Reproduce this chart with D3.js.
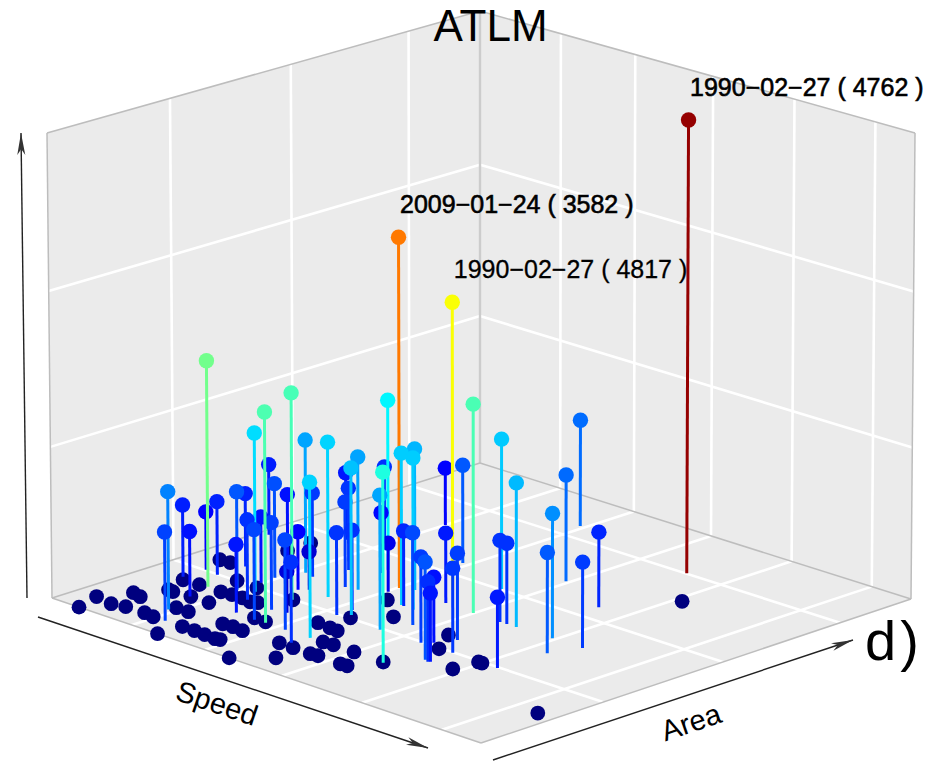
<!DOCTYPE html>
<html>
<head>
<meta charset="utf-8">
<style>
  body { margin: 0; background: #fff; }
  text { font-family: "Liberation Sans", Arial, sans-serif; fill: #000; }
</style>
<script src="https://cdnjs.cloudflare.com/ajax/libs/d3/7.8.5/d3.min.js"></script>
</head>
<body>
<div id="chart"></div>
<script>
// values, every axis runs 0..100
var speedTicks = [18.6, 35.7, 53.6, 72.3, 90.9];
var areaTicks = [28.4, 56.3, 83.5];
var valueTicks = [32.5, 66];

// storms with value about 0, the dark dots lying on the floor
var floorSpeed = [6.3,4.5,8.7,11.4,7.3,9.5,15.7,18.1,24.6,10.2,11.4,17.5,20.3,8.3,11.9,15.2,19.4,5.3,7.5,14.8,16.9,19.2,
  21.5,19.6,23.8,25,24.9,27.7,30.3,32.9,33.8,28.5,30.7,33.2,41.3,30,32.7,41.7,45,46.6,28,49.1,50.7,39,42.2,44.1,46.4,
  48.6,53.5,56.1,57.6,41,38.9,45.6,60.4,58.4,62.2,70.9,71.4,72.2,73.7,96.2,9.6,9.8];
var floorArea = [0,5.9,5.1,5.8,11.7,11.1,5.9,5.5,0,17,16.8,11.5,11.5,22.3,22.5,17.2,17.2,33.9,34.1,28.4,22.5,22.8,
  22.9,28.2,22.4,23,5.5,5.5,5.3,5.1,5.4,11.3,11.5,11.2,0,17.2,17.1,11.3,11.2,5.6,28.2,11.1,11.3,23,22.6,22.4,16.8,
  17,16.9,11.1,11.2,28.6,39.3,34,16.8,34,28,22.5,28,28,73.1,17,50.8,45.2];

// storms drawn with a stem
var stemSpeed = [17.3,20.9,7.2,15.1,7.3,13.6,10.4,18,10.7,26.1,22.8,18.3,30.7,29.1,18,1.9,13,25,37.8,43.1,31.9,27.9,
  19.8,43.5,22,26.3,20.8,33,31,31.9,40.1,12.5,23.7,29.4,38.4,38.4,28.2,60.7,19.2,48.7,28.5,36.1,36,42.3,45.4,38.5,
  42.9,50.7,58,64.5,59.5,65.5,65.8,18.6,46.7,34.4,61.2,65.2,42.9,53.5,75.7,48.2,59.8,61.3,63.4,71.6,76.3,52.9,34.7,
  78.6,66,64.2];
var stemArea = [9.9,5.5,23.4,17.1,28.7,22.8,28.2,25.2,34.5,16.9,22.8,30.5,16.5,22.1,34,48.8,42,32.4,16.6,12.7,22.9,
  28.1,39.4,16.7,38.8,33.7,26.6,16.8,33.4,39.5,29.7,56.1,45.5,39,28,31.6,50.2,16.5,58.4,27.8,48.3,42.3,45,39.2,38.8,
  46.1,39.1,33.4,28,22.5,29.5,22.1,22.4,73.2,45.1,61.4,33.3,28.2,50.5,44.7,28.1,56.6,44.6,44.7,44.8,45,39.1,66.9,
  88.5,45,61.4,83.7];
var stemValue = [25.3,19,15.5,14,12.5,48.7,15.8,21.1,15.8,14.6,17.2,14.2,19.3,18.7,20.3,15.3,14.1,12.5,19.2,17.2,8.8,
  44.5,28.7,33.2,18.1,8.2,34.2,45.1,33.3,28.6,31.5,14.6,17.7,18.3,17.6,17.1,36.7,40.5,17.2,28.8,13,10.5,75.6,32.6,
  32.6,30.4,16.1,19.7,18.3,20.8,14,17,14.6,12.4,15,21.2,18.5,18,62,44.8,15,32.3,17.5,17.3,30.8,26.6,21.4,22.9,23.1,
  18.3,16.1,97.9];

// three storms carry a label, index into the stem arrays
var labelStem = [71, 42, 58];
var labelDate = ['1990\u221202\u221227', '2009\u221201\u221224', '1990\u221202\u221227'];
var labelCount = [4762, 3582, 4817];

var jetStops = ['#00007F', '#0000FF', '#007FFF', '#00FFFF', '#7FFF7F', '#FFFF00', '#FF7F00', '#FF0000', '#7F0000'];

var width = 932, height = 761;

// box corners on screen: left, front, right, back
var floorX = [52, 481, 911, 480], floorY = [598, 743, 599, 463];
var ceilX = [47, 481, 915, 480], ceilY = [133, 265, 133, 11];

var sScale = d3.scaleLinear().domain([0, 100]).range([0, 1]);
var aScale = d3.scaleLinear().domain([0, 100]).range([0, 1]);
var zScale = d3.scaleLinear().domain([0, 100]).range([0, 1]);
var color = d3.scaleLinear()
  .domain(jetStops.map(function(d, i) { return i * 100 / (jetStops.length - 1); }))
  .range(jetStops);

var bilinear = function(c, s, a) {
  return c[0]*(1-s)*(1-a) + c[1]*s*(1-a) + c[2]*s*a + c[3]*(1-s)*a;
};

var project = function(speed, area, value) {
  var s = sScale(speed), a = aScale(area), z = zScale(value);
  var x0 = bilinear(floorX, s, a), y0 = bilinear(floorY, s, a);
  return [x0 + z*(bilinear(ceilX, s, a) - x0), y0 + z*(bilinear(ceilY, s, a) - y0)];
};

var line = d3.line();
var svg = d3.select('#chart').append('svg').attr('width', width).attr('height', height);
var defs = svg.append('defs');

defs.append('marker').attr('id', 'arrow')
  .attr('viewBox', '0 0 22 10').attr('refX', 22).attr('refY', 5)
  .attr('markerUnits', 'userSpaceOnUse').attr('markerWidth', 22).attr('markerHeight', 10)
  .attr('orient', 'auto')
  .append('path').attr('d', 'M0,1 L22,5 L0,9 L6,5 Z').attr('fill', '#333');

var panel = svg.append('g');

var panels = [
  [[0,0,0], [0,100,0], [0,100,100], [0,0,100]],
  [[0,100,0], [100,100,0], [100,100,100], [0,100,100]],
  [[0,0,0], [100,0,0], [100,100,0], [0,100,0]]
];
panel.selectAll('path.panel').data(panels).enter().append('path')
  .attr('class', 'panel')
  .attr('d', function(d) { return line(d.map(function(p) { return project(p[0], p[1], p[2]); })) + 'Z'; })
  .attr('fill', '#EBEBEB');

// white grid, two families on the floor and two on each wall
var gridLines = [];
speedTicks.forEach(function(t) {
  gridLines.push([[t,0,0], [t,100,0]]);
  gridLines.push([[t,100,0], [t,100,100]]);
});
areaTicks.forEach(function(t) {
  gridLines.push([[0,t,0], [100,t,0]]);
  gridLines.push([[0,t,0], [0,t,100]]);
});
valueTicks.forEach(function(t) {
  gridLines.push([[0,0,t], [0,100,t]]);
  gridLines.push([[0,100,t], [100,100,t]]);
});
panel.selectAll('path.grid').data(gridLines).enter().append('path')
  .attr('class', 'grid')
  .attr('d', function(d) { return line(d.map(function(p) { return project(p[0], p[1], p[2]); })); })
  .attr('fill', 'none').attr('stroke', '#fff').attr('stroke-width', 2.6);

var edges = [
  [[0,0,0], [0,0,100]], [[0,0,100], [0,100,100]], [[0,100,100], [100,100,100]], [[100,100,100], [100,100,0]],
  [[0,100,0], [0,100,100]],
  [[0,0,0], [100,0,0]], [[100,0,0], [100,100,0]], [[0,0,0], [0,100,0]], [[0,100,0], [100,100,0]]
];
panel.selectAll('path.edge').data(edges).enter().append('path')
  .attr('class', 'edge')
  .attr('d', function(d) { return line(d.map(function(p) { return project(p[0], p[1], p[2]); })); })
  .attr('fill', 'none').attr('stroke', function(d, i) { return i === 4 ? '#CCCCCC' : '#BDBDBD'; })
  .attr('stroke-width', function(d, i) { return i === 4 ? 2.4 : 1.5; });

// axis arrows
var arrows = [[[38,617],[428,748]], [[493,760],[853,640]], [[27,598],[21,133]]];
svg.selectAll('path.arrow').data(arrows).enter().append('path')
  .attr('class', 'arrow')
  .attr('d', function(d) { return line(d); })
  .attr('fill', 'none').attr('stroke', '#222').attr('stroke-width', 1.4)
  .attr('marker-end', 'url(#arrow)');

// dark floor dots first, then stems back to front
var floorDots = floorSpeed.map(function(d, i) { return {speed: d, area: floorArea[i], value: 0}; });
svg.append('g').selectAll('circle').data(floorDots).enter().append('circle')
  .attr('cx', function(d) { return project(d.speed, d.area, 0)[0]; })
  .attr('cy', function(d) { return project(d.speed, d.area, 0)[1]; })
  .attr('r', 7.4)
  .attr('fill', function(d) { return color(d.value); });

var stems = stemSpeed.map(function(d, i) { return {speed: d, area: stemArea[i], value: stemValue[i]}; });
stems.sort(function(a, b) { return (a.speed - a.area) - (b.speed - b.area); });

var stemG = svg.append('g').selectAll('g').data(stems).enter().append('g');
stemG.append('path')
  .attr('d', function(d) { return line([project(d.speed, d.area, 0), project(d.speed, d.area, d.value)]); })
  .attr('stroke', function(d) { return color(d.value); })
  .attr('stroke-width', 3).attr('fill', 'none');
stemG.append('circle')
  .attr('cx', function(d) { return project(d.speed, d.area, d.value)[0]; })
  .attr('cy', function(d) { return project(d.speed, d.area, d.value)[1]; })
  .attr('r', 7.7)
  .attr('fill', function(d) { return color(d.value); });

// date labels above the three biggest
svg.selectAll('text.lab').data(labelStem).enter().append('text')
  .attr('class', 'lab')
  .attr('x', function(d) { return project(stemSpeed[d], stemArea[d], stemValue[d])[0] + 1.5; })
  .attr('y', function(d) { return project(stemSpeed[d], stemArea[d], stemValue[d])[1] - 24; })
  .style('font-size', '25px')
  .style('stroke', '#000')
  .style('stroke-width', function(d, i) { return i < 2 ? 0.6 : 0.3; })
  .text(function(d, i) { return labelDate[i] + ' ( ' + labelCount[i] + ' )'; });

svg.append('text').attr('x', 490.5).attr('y', 41).attr('text-anchor', 'middle')
  .style('font-size', '44px').text('ATLM');
svg.append('text').attr('x', 865).attr('y', 660).style('font-size', '56px')
  .style('letter-spacing', '4px').text('d)');
svg.append('text').attr('transform', 'translate(217,703) rotate(18.7)').attr('text-anchor', 'middle')
  .attr('dy', '0.35em').style('font-size', '29px').text('Speed');
svg.append('text').attr('transform', 'translate(691,722) rotate(-19)').attr('text-anchor', 'middle')
  .attr('dy', '0.35em').style('font-size', '29px').text('Area');
</script>
</body>
</html>
